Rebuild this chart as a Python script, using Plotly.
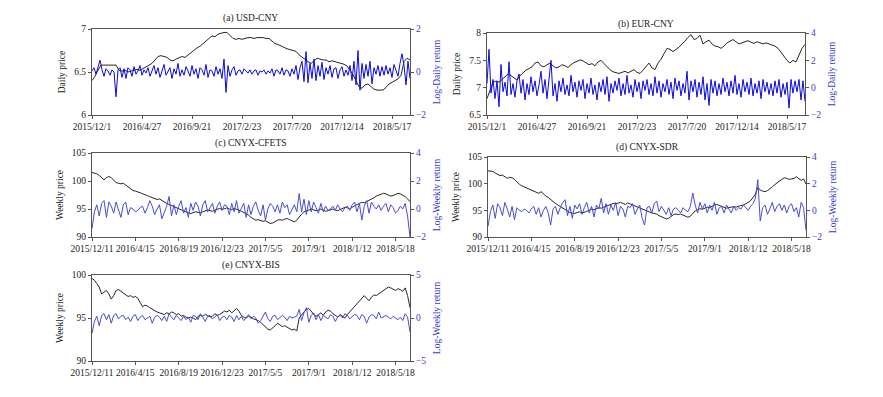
import plotly.graph_objects as go

W, H = 883, 397
OFF = 8  # the page body margin moves the figure this many pixels right and down

# x tick labels
daily_ticks = ["2015/12/1", "2016/4/27", "2016/9/21", "2017/2/23", "2017/7/20", "2017/12/14", "2018/5/17"]
weekly_ticks = ["2015/12/11", "2016/4/15", "2016/8/19", "2016/12/23", "2017/5/5", "2017/9/1", "2018/1/12", "2018/5/18"]

# (a) USD-CNY, price read every 6th trading day, return every 4th
usd_price = [6.40, 6.45, 6.52, 6.58, 6.58, 6.58, 6.58, 6.58, 6.58, 6.52,
             6.51, 6.52, 6.50, 6.51, 6.52, 6.53, 6.52, 6.54, 6.55, 6.57,
             6.60, 6.64, 6.68, 6.69, 6.68, 6.67, 6.64, 6.63, 6.65, 6.67,
             6.68, 6.67, 6.70, 6.73, 6.76, 6.78, 6.80, 6.83, 6.86, 6.90,
             6.92, 6.91, 6.94, 6.95, 6.96, 6.96, 6.92, 6.89, 6.88, 6.89,
             6.88, 6.89, 6.90, 6.90, 6.89, 6.90, 6.90, 6.90, 6.89, 6.89,
             6.86, 6.83, 6.82, 6.80, 6.78, 6.77, 6.76, 6.75, 6.74, 6.70,
             6.67, 6.64, 6.62, 6.60, 6.63, 6.66, 6.65, 6.64, 6.64, 6.62,
             6.63, 6.62, 6.61, 6.60, 6.59, 6.57, 6.52, 6.47, 6.40, 6.33,
             6.31, 6.35, 6.36, 6.33, 6.30, 6.29, 6.29, 6.29, 6.32, 6.36,
             6.38, 6.40, 6.42, 6.46, 6.62, 6.66, 6.64]
usd_ret = [0.05, 0.2, -0.1, 0.3, 0.55, 0.1, -0.2, 0.15, 0.05, -0.15, 0.1, 0.0, -1.15, 0.1, 0.2, -0.25,
           0.15, -0.3, 0.2, 0.1, -0.2, 0.25, -0.1, 0.05, 0.3, -0.15, 0.1, -0.05, 0.2, -0.2, 0.1, 0.3,
           -0.1, 0.2, -0.25, 0.1, 0.35, -0.15, 0.05, 0.2, -0.3, 0.15, -0.1, 0.4, -0.2, 0.1, -0.15, 0.25,
           0.05, -0.2, 0.3, -0.1, 0.15, -0.3, 0.2, 0.1, -0.15, 0.35, -0.25, 0.1, 0.05, -0.2, 0.25, -0.1,
           0.15, -0.3, 0.6, -0.95, 0.3, -0.2, 0.1, 0.25, -0.15, 0.05, 0.1, -0.1, 0.15, 0.05, -0.05, 0.1,
           -0.1, 0.05, 0.1, -0.15, 0.05, 0.0, 0.1, -0.1, 0.05, -0.05, 0.15, -0.2, 0.1, 0.05, -0.1, 0.2,
           -0.15, 0.1, 0.05, -0.2, 0.15, -0.1, 0.3, -0.35, 0.2, 0.5, -0.45, 0.95, -0.5, 0.4, -0.3, 0.6,
           -0.4, 0.3, -0.2, 0.45, -0.35, 0.2, -0.1, 0.3, -0.25, 0.15, 0.2, -0.3, 0.1, 0.25, -0.2, 0.1,
           -0.15, 0.3, -0.4, 0.5, -0.6, 1.0, -0.85, 0.4, -0.3, 0.35, -0.2, 0.5, -0.55, 0.2, -0.1, 0.3,
           -0.2, 0.25, -0.15, 0.3, -0.1, 0.2, -0.25, 0.35, 0.1, -0.2, 0.4, 0.85, 0.3, -0.6, 0.5, -0.3]

# (b) EUR-CNY
eur_price = [6.80, 6.95, 7.10, 7.12, 7.10, 7.15, 7.20, 7.25, 7.22, 7.18,
             7.14, 7.22, 7.28, 7.32, 7.35, 7.38, 7.45, 7.47, 7.40, 7.38,
             7.42, 7.45, 7.40, 7.36, 7.38, 7.42, 7.40, 7.37, 7.42, 7.46,
             7.48, 7.51, 7.49, 7.46, 7.42, 7.44, 7.40, 7.47, 7.50, 7.44,
             7.38, 7.33, 7.29, 7.28, 7.26, 7.28, 7.30, 7.27, 7.30, 7.33,
             7.28, 7.26, 7.32, 7.38, 7.45, 7.36, 7.33, 7.45, 7.52, 7.62,
             7.72, 7.70, 7.66, 7.70, 7.74, 7.80, 7.85, 7.92, 7.97, 7.88,
             7.90, 7.96, 7.80, 7.84, 7.87, 7.80, 7.76, 7.75, 7.72, 7.76,
             7.82, 7.85, 7.88, 7.84, 7.80, 7.82, 7.84, 7.86, 7.83, 7.81,
             7.84, 7.82, 7.80, 7.82, 7.80, 7.79, 7.76, 7.72, 7.65, 7.56,
             7.50, 7.45, 7.50, 7.47, 7.58, 7.72, 7.79]
eur_ret = [0.3, 2.8, -0.4, 0.6, -0.8, 0.5, -1.4, 1.7, -0.3, 0.4, -0.6, 1.9, -0.5, 0.3, -0.7, 0.5,
           1.0, -0.4, 0.6, -0.9, 0.3, -0.5, 0.8, -0.3, 0.5, -0.6, 0.2, 1.2, -0.4, 0.6, -0.8, 0.4,
           2.0, -0.6, 0.3, -1.0, 0.5, -0.3, 0.7, -0.5, 0.2, -0.6, 0.9, -0.3, 0.4, -0.7, 0.5, -0.2,
           0.6, -0.8, 0.3, -0.4, 0.7, -0.5, 0.2, -0.9, 0.4, -0.3, 0.6, -0.5, 0.8, -1.0, 0.3, -0.4,
           0.5, -0.2, 0.7, -0.6, 0.3, -0.5, 0.9, -0.4, 0.2, -0.7, 0.6, -0.3, 0.4, -0.8, 0.5, -0.2,
           0.6, -0.5, 0.3, -0.6, 0.8, -0.4, 0.5, -0.7, 0.3, -0.3, 0.6, -0.5, 0.4, -0.8, 0.7, -0.2,
           0.5, -0.6, 0.3, -0.4, 1.2, -0.9, 0.5, -0.3, 0.6, -0.7, 0.4, -0.5, 0.8, -0.9, 0.3, -1.3,
           0.6, -0.4, 0.5, -0.6, 0.3, -0.5, 0.7, -0.3, 0.4, -0.6, 0.5, -0.4, 0.9, -0.5, 0.3, -0.7,
           0.6, -0.3, 0.4, -0.5, 0.7, -0.6, 0.3, -0.4, 0.5, -0.8, 0.6, -0.3, 0.4, -0.5, 0.3, -0.6,
           0.5, -0.4, 0.6, -0.7, 0.3, -0.5, 0.4, -1.5, 0.6, -0.4, 0.5, -0.3, 0.6, -0.9, 0.5, -1.0]

# (c) CNYX-CFETS, weekly
cfets_price = [101.5, 101.4, 101.3, 101.0, 100.5, 100.2, 100.6, 100.8, 100.6, 100.1,
               99.7, 99.6, 99.5, 99.6, 99.3, 99.0, 98.7, 98.3, 98.2, 98.1,
               97.9, 97.7, 97.6, 97.4, 97.2, 97.0, 96.9, 96.7, 96.8, 96.5,
               96.2, 96.0, 95.8, 95.6, 95.4, 95.2, 95.0, 94.8, 94.6, 94.4,
               94.3, 94.2, 94.3, 94.5, 94.4, 94.3, 94.5, 94.6, 94.8, 94.7,
               94.6, 94.8, 95.0, 95.1, 94.9, 95.0, 95.2, 95.0, 94.9, 95.1,
               95.0, 94.8, 94.6, 94.4, 94.2, 93.9, 93.5, 93.2, 93.0, 93.1,
               93.0, 92.8, 92.9, 92.6, 92.4, 92.5, 92.8, 93.0, 93.1, 93.0,
               93.2, 93.3, 93.1, 92.9, 92.7, 93.0, 93.6, 94.1, 94.5, 94.6,
               94.8, 95.0, 94.9, 94.7, 94.8, 95.0, 94.8, 94.6, 94.7, 94.9,
               95.0, 94.8, 94.7, 94.9, 95.1, 95.3, 95.2, 95.0, 95.3, 95.6,
               95.8, 96.0, 96.2, 96.1, 96.3, 96.6, 96.8, 97.0, 97.3, 97.5,
               97.6, 97.8, 97.7, 97.5, 97.3, 97.4, 97.6, 97.8, 97.7, 97.5,
               97.2, 96.8, 96.3]
cfets_ret = [-1.4, -0.2, 0.3, -0.5, 0.4, 0.6, -0.6, 0.5, 0.2, -0.3,
             0.5, -0.1, -0.6, 0.3, 0.5, -0.4, 0.1, 0.0, -0.2, -0.1,
             0.1, 0.2, -0.3, 0.1, 0.6, 0.2, -0.4, 0.0, 0.3, -0.7,
             -0.2, 0.2, 0.9, -0.5, 0.3, -0.4, 0.2, 0.6, -0.3, 0.1,
             -0.6, 0.4, -0.1, 0.5, 0.2, -0.5, 0.3, 0.6, -0.2, 0.1,
             0.4, -0.3, 0.2, 0.5, -0.1, 0.3, 0.2, -0.4, 0.4, -0.2,
             0.6, -0.3, 0.1, 0.4, -0.6, 0.3, -0.4, 0.2, 0.5, -0.1,
             -0.5, 0.3, -0.8, 0.0, 0.4, 0.2, -0.2, 0.3, -0.3, 0.5,
             0.1, 0.3, -0.4, 0.0, 0.3, -0.2, 1.1, -0.2, 0.7, -0.4,
             0.6, -0.2, 0.5, 0.1, -0.3, 0.4, -0.2, 0.2, -0.1, 0.0,
             0.2, -0.1, 0.3, 0.0, -0.2, 0.1, 0.2, -0.1, 0.3, 0.5,
             -0.2, 0.4, -0.8, 0.2, 0.6, -0.3, 0.5, 0.2, 0.0, 0.3,
             -0.1, 0.2, 0.4, -0.2, 0.3, 0.1, -0.3, -0.1, 0.2, 0.0,
             0.4, -0.5, -2.0]

# (d) CNYX-SDR
sdr_price = [102.4, 102.4, 102.3, 102.0, 101.8, 101.5, 101.6, 101.3, 101.0, 101.2,
             101.1, 100.8, 100.3, 99.9, 99.6, 99.4, 99.2, 99.0, 98.8, 98.6,
             98.4, 98.2, 98.5, 98.0, 97.7, 97.4, 97.0, 96.6, 96.3, 96.0,
             95.7, 95.4, 95.1, 94.8, 94.6, 94.5, 94.4, 94.6, 94.7, 94.5,
             94.6, 94.8, 95.0, 95.2, 95.1, 95.3, 95.5, 95.4, 95.6, 95.8,
             95.9, 96.1, 96.3, 96.2, 96.4, 96.5, 96.3, 96.1, 96.4, 96.2,
             96.0, 95.8, 95.6, 95.4, 95.2, 95.0, 94.8, 94.6, 94.5, 94.4,
             94.3, 94.0, 93.8, 93.6, 93.4, 93.5, 93.9, 94.2, 94.3, 94.2,
             94.3, 94.1, 93.8, 93.7, 93.9, 94.4, 94.9, 95.1, 95.3, 95.2,
             95.4, 95.6, 95.5, 95.8, 96.0, 96.1, 95.9, 95.7, 95.5, 95.4,
             95.5, 95.6, 95.7, 95.6, 95.8, 95.9, 96.0, 96.2, 96.5, 96.8,
             97.3, 98.0, 99.3, 98.8, 98.6, 98.5, 98.7, 99.0, 99.4, 99.8,
             100.2, 100.5, 100.8, 101.1, 101.0, 100.8, 100.9, 101.0, 101.3, 100.9,
             100.6, 100.9, 99.9]
sdr_ret = [-1.2, -0.1, 0.4, -0.6, 0.5, 0.2, -0.4, 0.6, 0.1, -0.5,
           0.3, -0.7, 0.2, 0.0, -0.1, 0.1, 0.0, -0.2, 0.1, 0.3,
           -0.3, 0.2, -0.5, 0.0, 0.3, -0.2, -1.1, 0.1, 0.3, -0.3,
           0.2, 0.6, 0.8, -0.4, 0.3, -0.6, 0.4, 0.1, 0.5, -0.3,
           0.2, 0.6, -0.2, 0.3, -0.5, 0.4, 0.1, 0.9, -0.2, 0.5,
           -0.3, 0.4, 0.0, 0.6, -0.4, 0.3, 0.1, -0.5, 0.3, 0.2,
           0.5, -0.3, 0.1, 0.4, -0.6, -1.1, 0.2, 0.3, -0.2, 0.5,
           0.7, -0.1, 0.3, 0.0, -0.3, 0.2, -0.4, 0.1, 0.2, 0.0,
           -0.2, 0.2, 0.0, -0.1, 0.3, 1.3, 0.4, -0.2, 0.6, 0.1,
           0.5, -0.2, 0.4, 0.0, 0.6, -0.3, 0.2, 0.3, -0.2, 0.4,
           0.1, -0.2, 0.3, 0.0, 0.2, 0.1, 0.4, 0.2, 0.0, 0.3,
           0.5, 0.9, 2.3, -0.8, 0.2, 0.4, -0.3, 0.1, 0.6, -0.1,
           0.3, 0.5, 0.0, 0.4, -0.2, 0.3, 0.5, -0.1, 0.2, -0.5,
           0.6, 0.2, -1.5]

# (e) CNYX-BIS
bis_price = [99.6, 99.4, 99.0, 98.6, 97.8, 98.0, 98.2, 97.8, 97.2, 97.6,
             98.2, 98.3, 98.1, 97.9, 97.7, 97.5, 97.6, 97.4, 97.5, 97.3,
             96.8, 96.3, 96.5, 96.4, 96.2, 96.0, 95.9, 95.7, 95.6, 95.5,
             95.4, 95.6, 95.5, 95.7, 95.6, 95.4, 95.5, 95.2, 95.3, 95.1,
             95.0, 95.1, 95.0, 94.8, 95.2, 95.3, 95.2, 95.4, 95.3, 95.1,
             95.2, 95.5, 95.3, 95.4, 95.6, 95.8, 95.7, 95.9, 95.6, 95.8,
             96.1, 95.8, 95.3, 95.1, 95.0, 95.2, 95.1, 94.9, 94.8, 94.7,
             94.5, 94.2, 93.9, 93.7, 93.6, 93.8, 94.1, 94.4, 94.2, 94.0,
             94.1, 93.9, 93.8, 93.6, 93.7, 93.5, 95.0, 95.4, 95.7, 96.0,
             96.1, 95.8, 95.4, 95.2, 95.4, 95.6, 95.3, 95.7, 95.9, 95.8,
             95.5, 95.3, 95.1, 95.4, 95.2, 95.0, 95.4, 95.7, 96.0, 96.3,
             96.6, 96.9, 97.2, 97.6, 97.3, 97.0, 97.4, 97.7, 97.6, 97.8,
             98.0, 98.3, 98.5, 98.6, 98.5, 98.3, 98.2, 98.4, 98.3, 98.1,
             98.5, 97.6, 96.2]
bis_ret = [-1.8, -0.4, 0.2, -0.9, 0.3, 0.5, -0.2, 0.4, -0.6, 0.3,
           0.5, -0.1, 0.2, 0.3, -0.2, 0.1, -0.4, 0.2, 0.4, -0.3,
           0.1, 0.3, -0.2, 0.0, 0.2, -0.6, 0.1, 0.3, 0.1, -0.3,
           0.2, -0.4, 0.5, 0.1, -0.2, 0.3, 0.0, -0.3, 0.2, -0.2,
           0.1, -0.5, 0.3, 0.2, -0.2, 0.5, 0.1, -0.4, 0.2, 0.3,
           -0.1, 0.2, 0.4, -0.3, 0.1, 0.2, -0.2, 0.3, 0.1, -0.4,
           0.3, -0.2, 0.2, -0.3, 0.1, 0.4, -0.1, 0.2, 0.0, -0.6,
           -0.3, 0.3, 0.7, -0.1, -0.4, 0.2, 0.3, -0.2, 0.0, 0.3,
           0.1, -0.3, 0.2, 0.0, 0.1, 0.2, 1.0, -0.3, 0.6, 1.2,
           -0.5, 0.3, 0.6, -0.2, 0.4, -0.3, 0.3, 0.1, -0.1, 0.4,
           0.2, -0.4, 0.1, 0.3, 0.0, 0.5, 0.3, -0.1, 0.2, 0.4,
           0.3, -0.2, 0.4, 0.2, -0.6, 0.1, 0.4, 0.3, -0.1, 0.7,
           0.0, 0.2, 0.3, 0.1, -0.1, 0.2, 0.0, -0.2, 0.1, -0.3,
           0.5, 0.1, -1.6]

SERIF = "Liberation Serif"
BLUE_D = "#0a0ae0"
BLUE_W = "#4a4ad8"

# panel settings: box = plot area in page pixels (left, right, top, bottom)
panels = [
    dict(title="(a) USD-CNY", box=(92, 410, 29, 115), ty=18,
         price=usd_price, ret=usd_ret, steps=(6, 4), xmax=636, ticks=daily_ticks, tstep=100,
         prange=[6, 7], pticks=[6, 6.5, 7], rrange=[-2, 2], rticks=[-2, 0, 2],
         ltitle="Daily price", rtitle="Log-Daily return", blue=BLUE_D),
    dict(title="(b) EUR-CNY", box=(487, 805, 33, 115), ty=24,
         price=eur_price, ret=eur_ret, steps=(6, 4), xmax=636, ticks=daily_ticks, tstep=100,
         prange=[6.5, 8], pticks=[6.5, 7, 7.5, 8], rrange=[-2, 4], rticks=[-2, 0, 2, 4],
         ltitle="Daily price", rtitle="Log-Daily return", blue=BLUE_D),
    dict(title="(c) CNYX-CFETS", box=(92, 410, 153, 237), ty=143,
         price=cfets_price, ret=cfets_ret, steps=(1, 1), xmax=132, ticks=weekly_ticks, tstep=18,
         prange=[90, 105], pticks=[90, 95, 100, 105], rrange=[-2, 4], rticks=[-2, 0, 2, 4],
         ltitle="Weekly price", rtitle="Log-Weekly return", blue=BLUE_W),
    dict(title="(d) CNYX-SDR", box=(488, 806, 157, 237), ty=147,
         price=sdr_price, ret=sdr_ret, steps=(1, 1), xmax=132, ticks=weekly_ticks, tstep=18,
         prange=[90, 105], pticks=[90, 95, 100, 105], rrange=[-2, 4], rticks=[-2, 0, 2, 4],
         ltitle="Weekly price", rtitle="Log-Weekly return", blue=BLUE_W),
    dict(title="(e) CNYX-BIS", box=(92, 410, 275, 361), ty=265,
         price=bis_price, ret=bis_ret, steps=(1, 1), xmax=132, ticks=weekly_ticks, tstep=18,
         prange=[90, 100], pticks=[90, 95, 100], rrange=[-5, 5], rticks=[-5, 0, 5],
         ltitle="Weekly price", rtitle="Log-Weekly return", blue=BLUE_W),
]

fig = go.Figure()
layout = {}
annotations = []

def sfx(k):
    return "" if k == 1 else str(k)

axis_common = dict(showline=True, linecolor="#555555", linewidth=1, ticks="outside",
                   ticklen=3, tickcolor="#555555", showgrid=False, zeroline=False,
                   automargin=False)

for n, p in enumerate(panels, start=1):
    xa, ya, yr = "x" + sfx(n), "y" + sfx(n), "y" + str(n + 5)
    sp, sr = p["steps"]
    fig.add_trace(go.Scatter(x=[i * sp for i in range(len(p["price"]))], y=p["price"],
                             xaxis=xa, yaxis=ya, mode="lines", showlegend=False,
                             line=dict(color="#262626", width=1)))
    fig.add_trace(go.Scatter(x=[i * sr for i in range(len(p["ret"]))], y=p["ret"],
                             xaxis=xa, yaxis=yr, mode="lines", showlegend=False,
                             line=dict(color=p["blue"], width=1)))

    l, r, t, b = [v - OFF for v in p["box"]]
    layout["xaxis" + sfx(n)] = dict(
        axis_common, domain=[l / W, r / W], anchor=ya, range=[0, p["xmax"]],
        tickvals=[i * p["tstep"] for i in range(len(p["ticks"]))], ticktext=p["ticks"],
        mirror=True, tickangle=0,
        tickfont=dict(family=SERIF, size=9.5, color="#222222"))
    layout["yaxis" + sfx(n)] = dict(
        axis_common, domain=[1 - b / H, 1 - t / H], anchor=xa, range=p["prange"],
        tickvals=p["pticks"],
        tickfont=dict(family=SERIF, size=9.5, color="#222222"),
        title=dict(text=p["ltitle"], font=dict(family=SERIF, size=9.5, color="#222222"),
                   standoff=6))
    layout["yaxis" + str(n + 5)] = dict(
        axis_common, overlaying=ya, anchor=xa, side="right", range=p["rrange"],
        tickvals=p["rticks"],
        tickfont=dict(family=SERIF, size=9.5, color="#3a3acc"),
        title=dict(text=p["rtitle"], font=dict(family=SERIF, size=9.5, color="#3a3acc"),
                   standoff=8))
    annotations.append(dict(text=p["title"], x=(l + r) / 2 / W, y=1 - (p["ty"] - OFF) / H,
                            xref="paper", yref="paper", showarrow=False,
                            xanchor="center", yanchor="middle",
                            font=dict(family=SERIF, size=9.5, color="#222222")))

fig.update_layout(
    width=W, height=H,
    margin=dict(l=0, r=0, t=0, b=0),
    paper_bgcolor="white", plot_bgcolor="white",
    annotations=annotations,
    **layout
)

fig.write_html("out.html")
